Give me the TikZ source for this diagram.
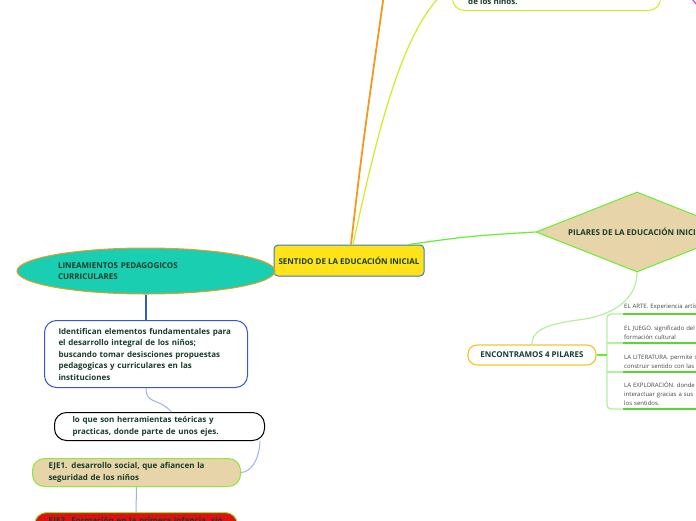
\documentclass[tikz,border=0pt]{standalone}
\usepackage{fontspec}
\setmainfont{Open Sans}
\usetikzlibrary{shapes.geometric}
\definecolor{txt}{HTML}{173C2C}
\definecolor{itemtxt}{HTML}{444444}
\definecolor{cyellow}{HTML}{FFE31A}
\definecolor{cblue}{HTML}{3B78C9}
\definecolor{teal}{HTML}{1ACFB1}
\definecolor{orng}{HTML}{F39A1E}
\definecolor{idblue}{HTML}{3559D6}
\definecolor{tan}{HTML}{E8D4A9}
\definecolor{lgreen}{HTML}{8CE83A}
\definecolor{dgreen}{HTML}{66EE33}
\definecolor{red1}{HTML}{E01010}
\definecolor{ygreen}{HTML}{CCEE22}
\definecolor{ency}{HTML}{F5C530}
\definecolor{pale}{HTML}{B5EEA0}
\definecolor{lblue}{HTML}{9DB0EE}
\definecolor{magen}{HTML}{E040E0}
\begin{document}
\begin{tikzpicture}[x=1pt,y=-1pt,
  lbl/.style={font=\bfseries\fontsize{8}{11.5}\selectfont, text=txt},
  central/.style={lbl, draw=cblue, fill=cyellow, rounded corners=4pt, line width=1pt,
    minimum width=150pt, minimum height=31pt, inner sep=1pt},
  ell/.style={lbl, ellipse, draw=orng, fill=teal, line width=1pt, text width=176pt,
    align=left, minimum width=258pt, minimum height=46pt, inner sep=0pt},
  pill/.style={lbl, rounded corners=12pt, line width=1pt, align=left, fill=white},
  item/.style={font=\fontsize{6}{9}\selectfont, text=itemtxt, text width=120pt,
    align=left, inner xsep=1pt, inner ysep=3.5pt, anchor=south west},
  under/.style={draw=dgreen!90!black, line width=2.4pt},
  brk/.style={draw=pale, line width=1.4pt, rounded corners=4pt}
]
\useasboundingbox (0,0) rectangle (696,520);
\clip (0,0) rectangle (696,520);

% top partial box
\node[draw=ygreen, line width=1pt, rounded corners=12pt, minimum width=208pt,
  minimum height=50pt, anchor=south west, inner sep=0pt] (t) at (452,11) {};
\node[lbl, anchor=base west, inner sep=0pt] (tt) at (468,4) {de los niños.};
\coordinate (mag0) at (688,-6);
\coordinate (mag1) at (697,5);
\draw[magen, line width=1.2pt] (mag0) .. controls (692,0) .. (mag1);

% central node
\node[central] (c) at (349,260.5) {SENTIDO DE LA EDUCACIÓN INICIAL};

% connectors upward
\coordinate (o1) at (386,-20);
\draw[orng, line width=1.8pt] ([xshift=2pt]c.north) .. controls (362,150) .. (o1);
\draw[ygreen, line width=1.2pt] ([xshift=4pt]c.north) .. controls (380,120) and (405,20) .. (t.west);

% left ellipse
\node[ell] (l) at (146,271) {LINEAMIENTOS PEDAGOGICOS\\CURRICULARES};

% left chain
\node[pill, draw=idblue, anchor=north west, text width=175pt, inner xsep=14pt,
  minimum height=67pt] (i) at (44,320)
  {Identifican elementos fundamentales para\\el desarrollo integral de los niños;\\buscando tomar desisciones propuestas\\pedagogicas y curriculares en las\\instituciones};
\node[pill, draw=black, anchor=north west, text width=174pt, inner xsep=18pt,
  minimum height=28pt] (q) at (54,412)
  {lo que son herramientas teóricas y\\practicas, donde parte de unos ejes.};
\node[pill, draw=lgreen, fill=tan, anchor=north west, text width=176pt, inner xsep=16pt,
  minimum height=28pt] (e1) at (32,458)
  {EJE1. desarrollo social, que afiancen la\\seguridad de los niños};
\node[pill, draw=lgreen, fill=red1, anchor=north west, text width=175pt, inner xsep=14pt,
  inner ysep=5pt] (e2) at (34,512)
  {EJE2. Formación en la primera infancia, sin\\\strut};

\draw[idblue, line width=1.2pt] (l.south) -- (i.north -| l.south);
\draw[lblue, line width=1pt] (i.south) .. controls (146,405) and (158,397) .. ([xshift=12pt]q.north);
\draw[lblue, line width=1pt] ([xshift=-5pt]q.south east) .. controls (259,462) and (250,472) .. (e1.east);
\draw[lblue, line width=1pt] (e1.south) -- (e2.north);

% right side
\node[diamond, aspect=2.5, draw=dgreen, fill=tan, line width=1pt, lbl,
  minimum width=202pt, minimum height=80pt, inner sep=0pt] (p) at (637,232)
  {PILARES DE LA EDUCACIÓN INICIAL};
\draw[dgreen, line width=1.2pt] ([xshift=-16pt]c.north east) .. controls (470,236) .. (p.west);

\node[lbl, draw=ency, fill=white, line width=1.2pt, rounded corners=9pt,
  minimum width=128pt, minimum height=20pt, inner sep=1pt] (e) at (532,355)
  {ENCONTRAMOS 4 PILARES};
\draw[pale, line width=1.2pt] (p.south) .. controls (637,300) and (612,316) .. (578,320)
  .. controls (540,325) and (532,333) .. (e.north);

\node[item] (a1) at (623,314) {EL ARTE. Experiencia artística};
\node[item] (a2) at (623,343) {EL JUEGO. significado del\\formación cultural};
\node[item] (a3) at (623,372) {LA LITERATURA. permite simbolizar\\construir sentido con las};
\node[item] (a4) at (623,409) {LA EXPLORACIÓN. donde\\interactuar gracias a sus\\los sentidos.};
\foreach \n in {a1,a2,a3,a4} \draw[under] (\n.south west) -- (\n.south east);

\coordinate (bk) at (607,355);
\draw[brk] (a1.south west) -- (607,314) -- (607,409) -- (a4.south west);
\draw[brk] (607,343) -- (a2.south west);
\draw[brk] (607,372) -- (a3.south west);
\draw[dgreen, line width=1.6pt] (e.east) -- (bk);
\end{tikzpicture}
\end{document}
